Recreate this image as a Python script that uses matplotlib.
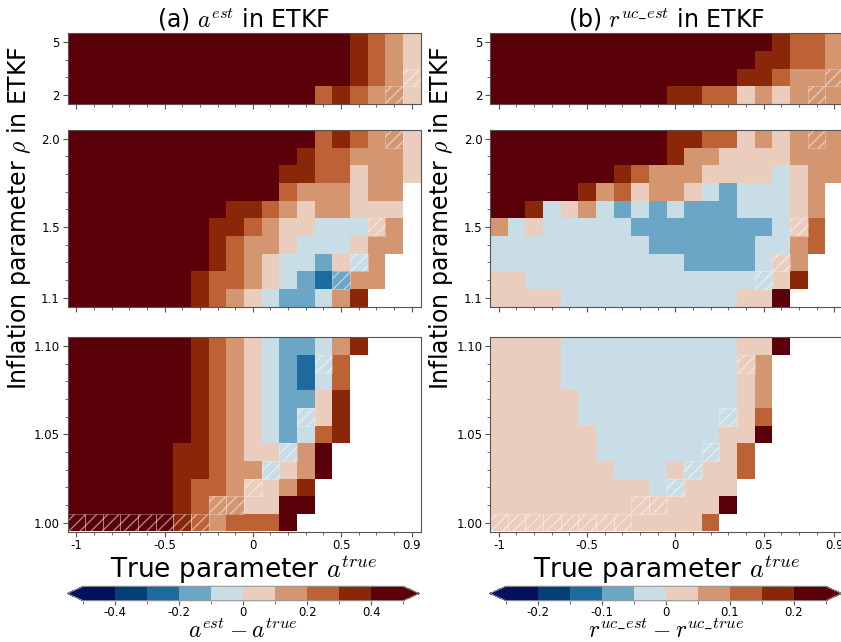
import numpy as np
import matplotlib
matplotlib.use('Agg')
import matplotlib.pyplot as plt
from matplotlib.colors import ListedColormap, BoundaryNorm
from matplotlib.patches import Rectangle

plt.rcParams['mathtext.fontset'] = 'cm'
plt.rcParams['font.family'] = ['DejaVu Sans']

# ---------------- data ----------------
A_TRUE = [-1.0, -0.9, -0.8, -0.7, -0.6, -0.5, -0.4, -0.3, -0.2, -0.1,
          0.0, 0.1, 0.2, 0.3, 0.4, 0.5, 0.6, 0.7, 0.8, 0.9]
RHO_TOP = [5, 4, 3, 2]
RHO_MID = [2.0, 1.9, 1.8, 1.7, 1.6, 1.5, 1.4, 1.3, 1.2, 1.1]
RHO_BOT = [1.10, 1.09, 1.08, 1.07, 1.06, 1.05, 1.04, 1.03, 1.02, 1.01, 1.00]

# colour-class for every cell (0 = most negative ... 9 = most positive, '.' = no value)
A_EST_TOP = ["99999999999999998765",
             "99999999999999998765",
             "99999999999999998765",
             "99999999999999787665"]
A_EST_MID = ["99999999999999787665",
             "99999999999998776665",
             "99999999999988775665",
             "9999999999997666566.",
             "9999999998876566555.",
             "9999999988765544456.",
             "9999999987665444566.",
             "999999998765443546..",
             "999999987765432366..",
             "99999998765433468..."]
A_EST_BOT = ["99999998765433468...",
             "9999999876543247....",
             "9999999876543247....",
             "9999999876543358....",
             "9999999876543458....",
             "9999999876543478....",
             "999999887655469.....",
             "999999887664569.....",
             "99999987765568......",
             "99999987665599......",
             "9999998767779......."]

R_EST_TOP = ["99999999999999998776",
             "99999999999999988776",
             "99999999999999887666",
             "99999999998877565666"]
R_EST_MID = ["99999999998877565666",
             "99999999998665555666",
             "99999998766655554566",
             "9999986756654344456.",
             "9984564343433344456.",
             "6454444433333333457.",
             "4444444443333334467.",
             "444444444443333456..",
             "554444444444444458..",
             "55554444444444559..."]
R_EST_BOT = ["55554444444444559...",
             "5555444444444456....",
             "5555444444444456....",
             "5555544444444456....",
             "5555544444444457....",
             "5555554444444559....",
             "555555444444457.....",
             "555555544454557.....",
             "55555555544555......",
             "55555555555559......",
             "5555555555557......."]

# value represented by each colour class
A_LEVELS = [-0.45, -0.35, -0.25, -0.15, -0.05, 0.05, 0.15, 0.25, 0.35, 0.45]
R_LEVELS = [-0.225, -0.175, -0.125, -0.075, -0.025, 0.025, 0.075, 0.125, 0.175, 0.225]
A_BOUNDS = [-0.5, -0.4, -0.3, -0.2, -0.1, 0.0, 0.1, 0.2, 0.3, 0.4, 0.5]
R_BOUNDS = [-0.25, -0.2, -0.15, -0.1, -0.05, 0.0, 0.05, 0.1, 0.15, 0.2, 0.25]

# hatched cells (a_true, rho) - same in both columns
HATCH_CELLS = [(0.9, 3), (0.8, 2), (0.7, 1.5), (0.6, 1.3), (0.5, 1.2),
               (0.4, 1.09), (0.3, 1.06), (0.2, 1.04), (0.1, 1.03), (0.0, 1.02),
               (-0.2, 1.01), (-0.1, 1.01),
               (-1.0, 1.00), (-0.9, 1.00), (-0.8, 1.00), (-0.7, 1.00),
               (-0.6, 1.00), (-0.5, 1.00), (-0.4, 1.00), (-0.3, 1.00)]

COLORS = ['#03115e', '#063e78', '#1d6b9d', '#6ca6c6', '#c8dde6',
          '#eacdbd', '#d49571', '#bd6235', '#8a2709', '#5a0009']

# ---------------- figure ----------------
W, H = 841, 642
fig = plt.figure(figsize=(W / 100, H / 100), dpi=100)


def px_axes(x0, y_top, w, h):
    return fig.add_axes([x0 / W, 1 - (y_top + h) / H, w / W, h / H])


cmap = ListedColormap(COLORS)
cmap.set_under(COLORS[0])
cmap.set_over(COLORS[-1])

AX_W = 353.0
COL_X = [67.5, 490.0]
ROWS_PX = [(33.3, 70.6), (130.0, 176.5), (337.3, 194.2)]
SPINE = '#555555'


def decode(rows, levels):
    return np.array([[np.nan if c == '.' else levels[int(c)] for c in r] for r in rows])


x_edges = [a - 0.05 for a in A_TRUE] + [A_TRUE[-1] + 0.05]

panels = [
    [(A_EST_TOP, RHO_TOP), (A_EST_MID, RHO_MID), (A_EST_BOT, RHO_BOT)],
    [(R_EST_TOP, RHO_TOP), (R_EST_MID, RHO_MID), (R_EST_BOT, RHO_BOT)],
]
levels_list = [A_LEVELS, R_LEVELS]
bounds_list = [A_BOUNDS, R_BOUNDS]
ytick_sets = [([5, 2], ['5', '2']), ([2.0, 1.5, 1.1], ['2.0', '1.5', '1.1']),
              ([1.10, 1.05, 1.00], ['1.10', '1.05', '1.00'])]
titles = ['(a) $a^{est}$ in ETKF', '(b) $r^{uc\\_est}$ in ETKF']
cb_labels = ['$a^{est} - a^{true}$', '$r^{uc\\_est} - r^{uc\\_true}$']
cb_ticks = [([-0.4, -0.2, 0, 0.2, 0.4], ['-0.4', '-0.2', '0', '0.2', '0.4']),
            ([-0.2, -0.1, 0, 0.1, 0.2], ['-0.2', '-0.1', '0', '0.1', '0.2'])]

for ci in range(2):
    norm = BoundaryNorm(bounds_list[ci], cmap.N)
    mesh = None
    for ri in range(3):
        rows, rhos = panels[ci][ri]
        ax = px_axes(COL_X[ci], ROWS_PX[ri][0], AX_W, ROWS_PX[ri][1])
        data = decode(rows, levels_list[ci])[::-1]
        rho_asc = rhos[::-1]
        dy = abs(rhos[0] - rhos[1])
        y_edges = [r - dy / 2 for r in rho_asc] + [rho_asc[-1] + dy / 2]
        mesh = ax.pcolormesh(x_edges, y_edges, data, cmap=cmap, norm=norm,
                             shading='flat', antialiased=False, linewidth=0)
        for (a, r) in HATCH_CELLS:
            if any(abs(r - rr) < 1e-9 for rr in rhos):
                ax.add_patch(Rectangle((a - 0.05, r - dy / 2), 0.1, dy, fill=False,
                                       hatch='///', edgecolor=(1, 1, 1, 0.5),
                                       linewidth=0.4))
        ax.set_xlim(x_edges[0], x_edges[-1])
        ax.set_ylim(y_edges[0], y_edges[-1])
        ax.set_xticks([-1, -0.5, 0, 0.5, 0.9])
        ax.set_xticks(A_TRUE, minor=True)
        yt, yl = ytick_sets[ri]
        ax.set_yticks(yt)
        ax.set_yticklabels(yl)
        ax.set_yticks(rhos, minor=True)
        if ri == 2:
            ax.set_xticklabels(['-1', '-0.5', '0', '0.5', '0.9'])
            ax.set_xlabel('True parameter $a^{true}$', fontsize=19, labelpad=1)
        else:
            ax.set_xticklabels([])
        ax.tick_params(which='major', length=3.5, width=0.8, labelsize=8.5,
                       color=SPINE, pad=2)
        ax.tick_params(which='minor', length=2, width=0.6, color=SPINE)
        for s in ax.spines.values():
            s.set_color(SPINE)
            s.set_linewidth(0.8)
        if ri == 0:
            ax.set_title(titles[ci], fontsize=17, pad=4)
        if ri == 1:
            ax.set_ylabel('Inflation parameter $\\rho$ in ETKF', fontsize=17)
            ax.yaxis.set_label_coords(-0.098, 0.5)

    cax = px_axes(COL_X[ci] - 0.2, 586.3, AX_W - 1, 14.4)
    cb = fig.colorbar(mesh, cax=cax, orientation='horizontal', extend='both',
                      extendfrac=0.05, spacing='uniform')
    t, tl = cb_ticks[ci]
    cb.set_ticks(t)
    cb.set_ticklabels(tl)
    cb.ax.set_xticks(bounds_list[ci][0::2], minor=True)
    cb.ax.tick_params(which='major', length=3, labelsize=8.5, pad=1, color=SPINE)
    cb.ax.tick_params(which='minor', length=2, color=SPINE)
    cb.outline.set_edgecolor('#999999')
    cb.outline.set_linewidth(0.8)
    cb.set_label(cb_labels[ci], fontsize=17, labelpad=0)

fig.savefig('out.png', dpi=100)
